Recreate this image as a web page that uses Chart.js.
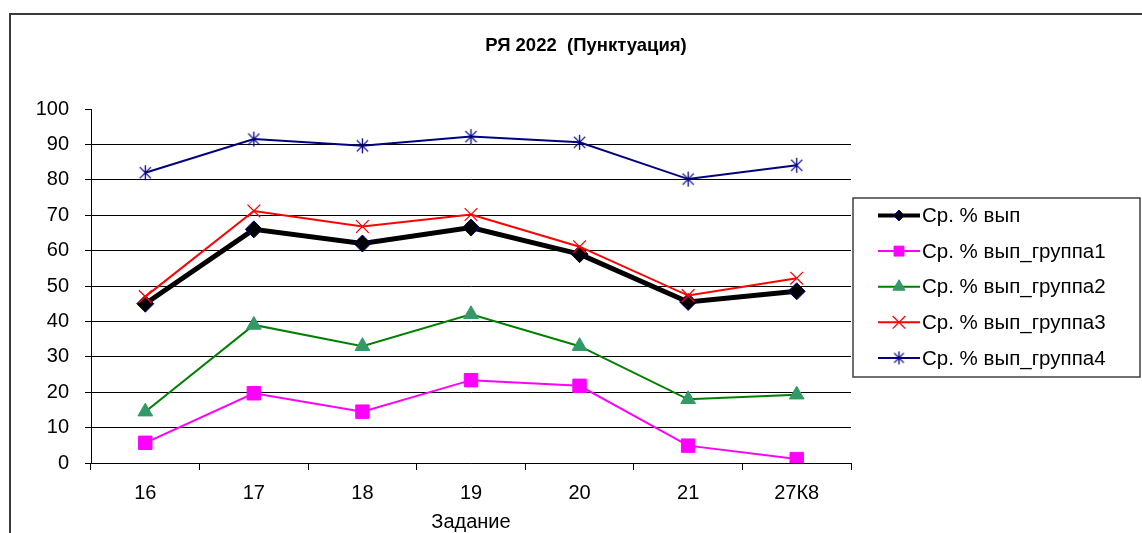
<!DOCTYPE html>
<html>
<head>
<meta charset="utf-8">
<script src="https://cdn.jsdelivr.net/npm/chart.js@4/dist/chart.umd.min.js"></script>
<style>
  html, body { margin: 0; padding: 0; background: #fff; }
  #wrap { width: 1142px; height: 533px; }
</style>
</head>
<body>
<div id="wrap"><canvas id="myChart" width="1142" height="533"></canvas></div>
<script>
const chartTitle = 'РЯ 2022  (Пунктуация)';
const xTitle = 'Задание';
const labels = ['16', '17', '18', '19', '20', '21', '27К8'];
const seriesNames = ['Ср. % вып', 'Ср. % вып_группа1', 'Ср. % вып_группа2', 'Ср. % вып_группа3', 'Ср. % вып_группа4'];
const avgAll = [45, 66, 62, 66.5, 59, 45.5, 48.5];
const group1 = [5.7, 19.7, 14.5, 23.4, 21.8, 4.9, 1.1];
const group2 = [14.5, 39, 33, 42, 33, 18, 19.3];
const group3 = [47, 71.2, 66.8, 70.2, 61.1, 47.3, 52.2];
const group4 = [82, 91.5, 89.6, 92.2, 90.6, 80.2, 84.1];

const FONT = "'Liberation Sans', Arial, sans-serif";

// excel-like asterisk marker: vertical bar plus an X
function makeAsterisk(color, size) {
    const c = document.createElement('canvas');
    c.width = size; c.height = size;
    const g = c.getContext('2d');
    const m = size / 2, r = size / 2 - 1;
    g.strokeStyle = color;
    g.lineWidth = 1.3;
    g.beginPath();
    g.moveTo(m, m - r); g.lineTo(m, m + r);
    g.moveTo(m - r * 0.75, m - r * 0.75); g.lineTo(m + r * 0.75, m + r * 0.75);
    g.moveTo(m + r * 0.75, m - r * 0.75); g.lineTo(m - r * 0.75, m + r * 0.75);
    g.stroke();
    return c;
}
const starBig = makeAsterisk('#000080', 17);
const starSmall = makeAsterisk('#000080', 15);

const datasets = [
    { label: seriesNames[0], data: avgAll, borderColor: '#000000', borderWidth: 5,
      pointStyle: 'rectRot', pointRadius: 8.5, pointBackgroundColor: '#000000', pointBorderColor: '#000080', pointBorderWidth: 1,
      order: 5, legendWidth: 4, legendRadius: 5.5, legendStyle: 'rectRot' },
    { label: seriesNames[1], data: group1, borderColor: '#FF00FF', borderWidth: 2,
      pointStyle: 'rect', pointRadius: 9.5, pointBackgroundColor: '#FF00FF', pointBorderColor: '#FF00FF', pointBorderWidth: 1,
      order: 4, legendWidth: 2, legendRadius: 7, legendStyle: 'rect' },
    { label: seriesNames[2], data: group2, borderColor: '#008000', borderWidth: 2,
      pointStyle: 'triangle', pointRadius: 8.5, pointBackgroundColor: '#339966', pointBorderColor: '#339966', pointBorderWidth: 1,
      order: 3, legendWidth: 2, legendRadius: 7, legendStyle: 'triangle' },
    { label: seriesNames[3], data: group3, borderColor: '#FF0000', borderWidth: 2,
      pointStyle: 'crossRot', pointRadius: 9, pointBackgroundColor: '#FF0000', pointBorderColor: '#FF0000', pointBorderWidth: 1.3,
      order: 2, legendWidth: 2, legendRadius: 9, legendStyle: 'crossRot' },
    { label: seriesNames[4], data: group4, borderColor: '#000080', borderWidth: 2,
      pointStyle: starBig, pointRadius: 8, pointBackgroundColor: '#000080', pointBorderColor: '#000080', pointBorderWidth: 1,
      order: 1, legendWidth: 2, legendRadius: 7, legendStyle: starSmall }
];

// frame, title and excel-like legend box
const decorPlugin = {
    id: 'decor',
    afterDraw(chart) {
        const ctx = chart.ctx;
        ctx.save();
        ctx.strokeStyle = '#3a3a3a';
        ctx.lineWidth = 2;
        ctx.beginPath();
        ctx.moveTo(10, 533); ctx.lineTo(10, 14); ctx.lineTo(1142, 14);
        ctx.stroke();

        ctx.fillStyle = '#000';
        ctx.font = 'bold 18.5px ' + FONT;
        ctx.textAlign = 'center';
        ctx.textBaseline = 'middle';
        ctx.fillText(chartTitle, 586, 46);

        // legend
        ctx.strokeStyle = '#404040';
        ctx.lineWidth = 1.5;
        ctx.strokeRect(853, 198, 287, 179);
        ctx.font = '20.5px ' + FONT;
        ctx.textAlign = 'left';
        datasets.forEach((ds, i) => {
            const y = 215.5 + i * 35.6;
            ctx.strokeStyle = ds.borderColor;
            ctx.lineWidth = ds.legendWidth;
            ctx.beginPath();
            ctx.moveTo(878, y); ctx.lineTo(920, y);
            ctx.stroke();
            ctx.fillStyle = ds.pointBackgroundColor;
            ctx.strokeStyle = ds.pointBorderColor;
            ctx.lineWidth = ds.pointBorderWidth;
            Chart.helpers.drawPoint(ctx, { pointStyle: ds.legendStyle, radius: ds.legendRadius, rotation: 0, borderWidth: ds.pointBorderWidth }, 899, y);
            ctx.fillStyle = '#000';
            ctx.fillText(ds.label, 922, y + 1);
        });
        ctx.restore();
    }
};

const config = {
    type: 'line',
    data: { labels: labels, datasets: datasets },
    options: {
        responsive: false,
        animation: false,
        devicePixelRatio: 1,
        layout: { padding: { top: 109, right: 291, left: 0, bottom: 0 } },
        elements: { line: { tension: 0 } },
        plugins: {
            legend: { display: false },
            title: { display: false },
            tooltip: { enabled: false }
        },
        scales: {
            x: {
                offset: true,
                grid: { offset: true, drawOnChartArea: false, drawTicks: true, tickLength: 7, tickColor: '#000' },
                border: { color: '#000', width: 1 },
                ticks: { color: '#000', font: { family: FONT, size: 20 }, padding: 11, maxRotation: 0 },
                title: { display: true, text: xTitle, color: '#000', font: { family: FONT, size: 20 }, padding: { top: 0, bottom: -1 } },
                afterFit(scale) { scale.height = 70; }
            },
            y: {
                min: 0,
                max: 100,
                grid: {
                    color: c => (c.tick && c.tick.value === 100) ? 'rgba(0,0,0,0)' : '#000',
                    tickColor: '#000',
                    tickLength: 6,
                    lineWidth: 1
                },
                border: { color: '#000', width: 1 },
                ticks: { stepSize: 10, color: '#000', font: { family: FONT, size: 20 }, padding: 16 },
                afterFit(scale) { scale.width = 91; }
            }
        }
    },
    plugins: [decorPlugin]
};

const ctx = document.getElementById('myChart').getContext('2d');
new Chart(ctx, config);
</script>
</body>
</html>
